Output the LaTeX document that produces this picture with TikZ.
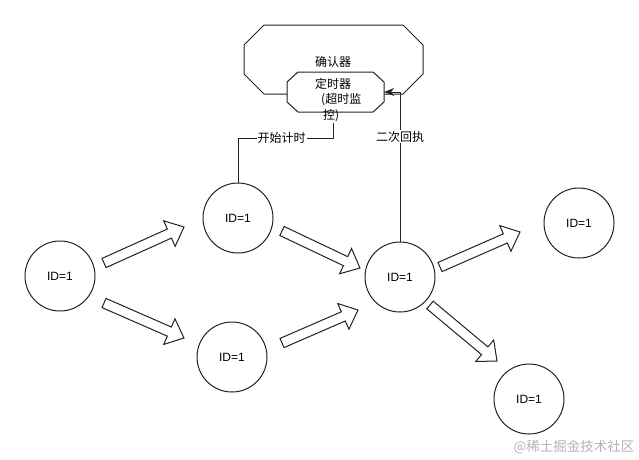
\documentclass[tikz,border=0pt]{standalone}
\usepackage{fontspec}
\setmainfont{Liberation Sans}
\newfontfamily\cjk{Noto Sans CJK SC}
\usetikzlibrary{calc,arrows.meta}
\definecolor{lineclr}{HTML}{222222}
\definecolor{wmclr}{HTML}{B4B4B4}
\tikzset{
  idnode/.style={circle,draw=lineclr,line width=1pt,minimum size=70pt,inner sep=0pt,fill=white,font=\fontsize{12}{14}\selectfont},
  octa/.style={draw=lineclr,line width=1pt,fill=white,line join=miter},
  box/.style={rectangle,inner sep=0pt},
  flex/.style={draw=lineclr,line width=1pt,fill=white,line join=miter},
  conn/.style={draw=lineclr,line width=1pt},
  lbl/.style={font=\cjk\fontsize{12}{15}\selectfont,fill=white,inner sep=1pt},
  txt/.style={font=\cjk\fontsize{12}{15.5}\selectfont,inner sep=0pt},
}
\newcommand\flexarr[2]{%
  \coordinate (fh) at ($(#2)!16pt!(#1)$);
  \draw[flex] ($(#1)!5pt!90:(#2)$) -- ($(fh)!5pt!90:(#2)$) -- ($(fh)!14pt!90:(#2)$) -- (#2)
    -- ($(fh)!14pt!-90:(#2)$) -- ($(fh)!5pt!-90:(#2)$) -- ($(#1)!5pt!-90:(#2)$) -- cycle;}
\begin{document}
\begin{tikzpicture}[x=1pt,y=-1pt]
\useasboundingbox (0,0) rectangle (639,459);
% confirmer and timer
\node[box,minimum width=179pt,minimum height=69pt] (outer) at (333.5,59.5) {};
\draw[octa] (264,25) -- (403,25) -- (423,45) -- (423,74) -- (403,94) -- (264,94) -- (244,74) -- (244,45) -- cycle;
\node[txt] (outerlabel) at (333,62) {确认器};
\node[box,minimum width=97pt,minimum height=40pt] (timer) at (335.5,92) {};
\draw[octa] (298,72) -- (373,72) -- (384,82) -- (384,102) -- (373,112) -- (298,112) -- (287,102) -- (287,82) -- cycle;
\node[txt,align=left,anchor=north west] (timerlabel) at (315,78) {定时器\\\hspace*{6pt}(超时监\\\hspace*{8pt}控)};
\coordinate (tstart) at (333,123);
% circles
\node[idnode] (A) at (60,276) {ID=1};
\node[idnode] (B) at (238,218) {ID=1};
\node[idnode] (C) at (232,357) {ID=1};
\node[idnode] (D) at (400,277) {ID=1};
\node[idnode] (E) at (579,223) {ID=1};
\node[idnode] (F) at (529,399) {ID=1};
% connectors
\draw[conn] (tstart) -- ++(0,15) -| node[lbl,pos=0.27] {开始计时} (B.north);
\draw[conn,-{Stealth[length=10pt,width=8pt]}] (D.north) |- node[lbl,pos=0.35] {二次回执} (timer.east);
% block arrows
\coordinate (s1) at (104,263); \coordinate (e1) at (184,227);
\coordinate (s2) at (104,303); \coordinate (e2) at (184,338);
\coordinate (s3) at (282,231); \coordinate (e3) at (360,268);
\coordinate (s4) at (282,343); \coordinate (e4) at (358,310);
\coordinate (s5) at (440,267); \coordinate (e5) at (520,232);
\coordinate (s6) at (430,305); \coordinate (e6) at (497,361);
\flexarr{s1}{e1}
\flexarr{s2}{e2}
\flexarr{s3}{e3}
\flexarr{s4}{e4}
\flexarr{s5}{e5}
\flexarr{s6}{e6}
% watermark
\node[font=\cjk\fontsize{13.5}{14}\selectfont,text=wmclr,inner sep=0pt] (wm) at (574,447) {@稀土掘金技术社区};
\end{tikzpicture}
\end{document}
